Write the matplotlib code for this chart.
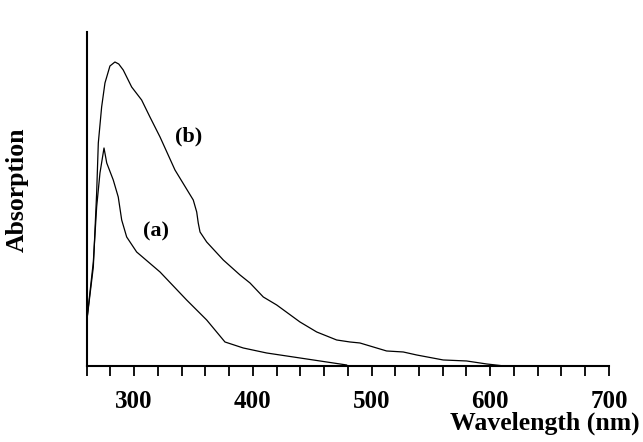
import matplotlib
matplotlib.use("Agg")
import matplotlib.pyplot as plt
from matplotlib.ticker import MultipleLocator

# Curve (a)
wl_a = [260, 265.6, 268.4, 271.2, 274.6, 276.9, 282.4, 286.6, 289.5, 293.7, 302.1,
        321.8, 344.2, 361.1, 376.5, 391.9, 411.6, 439.7, 479.0]
abs_a = [44, 104, 159, 193, 218, 203, 186, 169, 146, 129, 114,
         94, 66, 46, 24, 18, 13, 8, 1]

# Curve (b)
wl_b = [260, 265.6, 268.4, 269.8, 272.6, 275.4, 279.6, 283.8, 287.0, 290.8, 297.9, 306.3,
        313.3, 321.8, 334.4, 349.8, 352.7, 354.0, 355.5, 361.1, 375.1, 389.2,
        397.6, 408.8, 420.1, 439.7, 453.8, 470.6, 481.8, 490.2, 512.7, 526.7,
        538.0, 560.4, 580.1, 597.0, 608.2]
abs_b = [44, 99, 173, 223, 259, 283, 300, 304, 302, 296, 279, 266,
         249, 229, 196, 166, 154, 143, 134, 124, 106, 91,
         83, 69, 61, 44, 34, 26, 24, 23, 15, 14,
         11, 6, 5, 2, 0.5]

major_ticks = [300, 400, 500, 600, 700]
tick_labels = ["300", "400", "500", "600", "700"]

serif = ["Liberation Serif", "DejaVu Serif"]

fig = plt.figure(figsize=(6.43, 4.42), dpi=100)
ax = fig.add_axes([0.1348, 0.172, 0.947 - 0.1348, 0.9276 - 0.172])

ax.plot(wl_a, abs_a, color="black", lw=0.9)
ax.plot(wl_b, abs_b, color="black", lw=0.9)

ax.set_xlim(260, 700)
ax.set_ylim(0, 334)

ax.spines["top"].set_visible(False)
ax.spines["right"].set_visible(False)
ax.spines["left"].set_linewidth(1.5)
ax.spines["bottom"].set_linewidth(1.5)

ax.set_yticks([])
ax.set_xticks(major_ticks)
ax.set_xticklabels(tick_labels, fontfamily=serif, fontweight="bold", fontsize=18)
ax.xaxis.set_minor_locator(MultipleLocator(20))
ax.tick_params(axis="x", which="both", direction="out", length=7.2, width=1.3, pad=10)

ax.text(346, 230, "(b)", fontfamily=serif, fontweight="bold", fontsize=16,
        ha="center", va="center")
ax.text(318.5, 135, "(a)", fontfamily=serif, fontweight="bold", fontsize=16,
        ha="center", va="center")

fig.text(640 / 643, 1 - 423 / 442, "Wavelength (nm)", fontfamily=serif,
         fontweight="bold", fontsize=18.5, ha="right", va="center")
fig.text(17 / 643, 1 - 190 / 442, "Absorption", fontfamily=serif,
         fontweight="bold", fontsize=18.5, ha="center", va="center", rotation=90)

fig.savefig("out.png", dpi=100)
